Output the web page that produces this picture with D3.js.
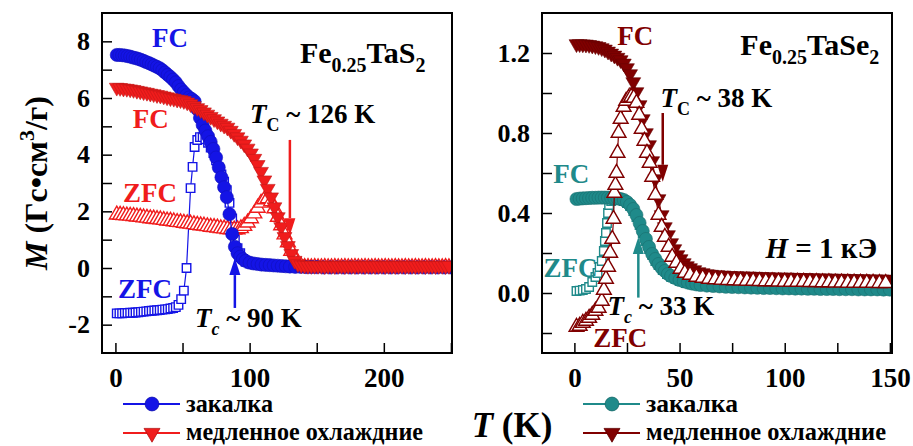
<!DOCTYPE html>
<html>
<head>
<meta charset="utf-8">
<script src="https://cdn.jsdelivr.net/npm/d3@7"></script>
<style>
  body { margin: 0; background: #fff; }
</style>
</head>
<body>
<svg id="chart" width="913" height="446" font-family="Liberation Serif" font-weight="bold"></svg>
<script>
// ---- data: [T (K), M] ----
// Fe0.25TaS2
const sQuenchFC = [[1,7.52],[3,7.52],[5,7.51],[7,7.5],[9,7.48],[11,7.46],[13,7.43],[15,7.41],[17,7.38],[19,7.35],[21,7.31],[23,7.27],[25,7.23],[27,7.19],[29,7.14],[31,7.1],[33,7.05],[35,6.98],[37,6.9],[39,6.82],[41,6.74],[43,6.65],[45,6.55],[47,6.42],[49,6.3],[51,6.2],[53,6.1],[55,6.02],[57,5.96],[59,5.88],[61,5.6],[63,5.3],[65,5.05],[67,4.85],[69,4.65],[71,4.45],[73,4.2],[75,3.9],[77,3.55],[79,3.2],[81,2.85],[83,2.5],[85,1.9],[87,1.2],[89,0.75],[91,0.52],[93,0.4],[95,0.31],[97,0.25],[100,0.19],[103,0.16],[106,0.14],[109,0.12],[112,0.11],[115,0.1],[118,0.09],[121,0.08],[124,0.07],[127,0.06],[130,0.05],[134,0.04],[138,0.04],[142,0.03],[146,0.03],[150,0.03],[155,0.02],[160,0.02],[165,0.02],[170,0.02],[175,0.02],[180,0.02],[185,0.02],[190,0.02],[195,0.02],[200,0.02],[205,0.02],[210,0.02],[215,0.02],[220,0.02],[225,0.02],[230,0.02],[235,0.02],[240,0.02],[245,0.02],[250,0.02]];
const sQuenchZFC = [[1,-1.6],[3,-1.6],[5,-1.6],[7,-1.59],[9,-1.59],[11,-1.58],[13,-1.58],[15,-1.57],[17,-1.56],[19,-1.55],[21,-1.54],[23,-1.53],[25,-1.52],[27,-1.51],[29,-1.5],[31,-1.49],[33,-1.48],[35,-1.47],[37,-1.46],[39,-1.45],[41,-1.43],[43,-1.41],[45,-1.38],[47,-1.3],[49,-1.1],[51,-0.8],[53,0.0],[56,2.82],[57.5,3.57],[59,4.27],[61,4.52],[63,4.62],[65,4.62],[67,4.55],[69,4.42],[71,4.25],[73,4.06],[75,3.8],[77,3.55],[79,3.3],[81,3.05],[83,2.75],[85,2.3],[87,1.75],[89,1.0],[91,0.7],[93,0.52],[95,0.32],[97,0.22],[100,0.16],[104,0.12],[108,0.1],[112,0.08],[116,0.07],[120,0.06],[125,0.05],[130,0.04],[135,0.03],[140,0.03]];
const sSlowFC = [[1,6.37],[3.5,6.36],[6,6.34],[8.5,6.33],[11,6.31],[13.5,6.29],[16,6.26],[18.5,6.24],[21,6.21],[23.5,6.19],[26,6.16],[28.5,6.14],[31,6.11],[33.5,6.09],[36,6.06],[38.5,6.03],[41,6.0],[43.5,5.98],[46,5.95],[48.5,5.93],[51,5.9],[53.5,5.85],[56,5.79],[58.5,5.72],[61,5.65],[63.5,5.58],[66,5.5],[68.5,5.42],[71,5.34],[73.5,5.26],[76,5.18],[78.5,5.1],[81,5.03],[83.5,4.96],[86,4.85],[88.5,4.74],[91,4.62],[93.5,4.5],[96,4.37],[98.5,4.22],[101,4.05],[103.5,3.86],[106,3.64],[108.5,3.4],[111,3.1],[113.5,2.8],[116,2.5],[118.5,2.15],[121,1.8],[123.5,1.45],[126,1.1],[128.5,0.78],[131,0.5],[133.5,0.26],[136,0.14],[138.5,0.1],[141,0.09],[143.5,0.08],[146,0.08],[148.5,0.08],[151,0.08],[153.5,0.08],[156,0.07],[158.5,0.08],[161,0.08],[163.5,0.07],[166,0.08],[168.5,0.08],[171,0.07],[173.5,0.08],[176,0.08],[178.5,0.07],[181,0.08],[183.5,0.08],[186,0.07],[188.5,0.08],[191,0.08],[193.5,0.07],[196,0.08],[198.5,0.08],[201,0.07],[203.5,0.08],[206,0.08],[208.5,0.07],[211,0.08],[213.5,0.08],[216,0.07],[218.5,0.08],[221,0.08],[223.5,0.07],[226,0.08],[228.5,0.08],[231,0.07],[233.5,0.08],[236,0.08],[238.5,0.07],[241,0.08],[243.5,0.08],[246,0.07],[248.5,0.08]];
const sSlowZFC = [[1,1.88],[3.5,1.87],[6,1.86],[8.5,1.85],[11,1.84],[13.5,1.83],[16,1.81],[18.5,1.8],[21,1.78],[23.5,1.77],[26,1.75],[28.5,1.74],[31,1.72],[33.5,1.71],[36,1.69],[38.5,1.67],[41,1.66],[43.5,1.64],[46,1.62],[48.5,1.61],[51,1.59],[53.5,1.57],[56,1.56],[58.5,1.54],[61,1.52],[63.5,1.5],[66,1.49],[68.5,1.47],[71,1.45],[73.5,1.44],[76,1.42],[78.5,1.4],[81,1.39],[83.5,1.37],[86,1.36],[88.5,1.35],[91,1.36],[93.5,1.4],[96,1.48],[98.5,1.6],[101,1.75],[103.5,1.92],[106,2.12],[108.5,2.3],[111,2.42],[113.5,2.46],[116,2.35],[118.5,2.1],[121,1.8],[123.5,1.5],[126,1.18],[128.5,0.9],[131,0.6],[133.5,0.32],[136,0.14],[138.5,0.06],[141,0.03],[143.5,0.03],[146,0.02],[148.5,0.03],[151,0.02],[153.5,0.02],[156,0.03],[158.5,0.02],[161,0.02],[163.5,0.03],[166,0.02],[168.5,0.02],[171,0.03],[173.5,0.02],[176,0.02],[178.5,0.03],[181,0.02],[183.5,0.02],[186,0.03],[188.5,0.02],[191,0.02],[193.5,0.03],[196,0.02],[198.5,0.02],[201,0.03],[203.5,0.02],[206,0.02],[208.5,0.03],[211,0.02],[213.5,0.02],[216,0.03],[218.5,0.02],[221,0.02],[223.5,0.03],[226,0.02],[228.5,0.02],[231,0.03],[233.5,0.02],[236,0.02],[238.5,0.03],[241,0.02],[243.5,0.02],[246,0.03],[248.5,0.02]];

// Fe0.25TaSe2
const seQuenchFC = [[1,0.47],[2.5,0.472],[4,0.473],[5.5,0.474],[7,0.475],[8.5,0.476],[10,0.476],[11.5,0.477],[13,0.477],[14.5,0.477],[16,0.477],[17.5,0.476],[19,0.475],[20.5,0.473],[22,0.47],[23.5,0.465],[25,0.455],[26.5,0.44],[28,0.42],[29.5,0.39],[31,0.35],[32.5,0.31],[34,0.27],[35.5,0.23],[37,0.195],[38.5,0.17],[40,0.145],[41.5,0.125],[43,0.11],[44.5,0.095],[46,0.085],[48,0.075],[50,0.065],[52,0.058],[54,0.052],[56,0.047],[58,0.043],[60,0.04],[63,0.037],[66,0.035],[69,0.033],[72,0.031],[75,0.03],[78,0.029],[81,0.028],[84,0.027],[87,0.026],[90,0.025],[93,0.025],[96,0.024],[99,0.023],[102,0.023],[105,0.022],[108,0.022],[111,0.021],[114,0.021],[117,0.02],[120,0.02],[123,0.02],[126,0.019],[129,0.019],[132,0.019],[135,0.018],[138,0.018],[141,0.018],[144,0.018],[147,0.017],[150,0.017]];
const seQuenchZFC = [[1,0.01],[2.5,0.012],[4,0.015],[5.5,0.02],[7,0.03],[8.5,0.055],[10,0.08],[11,0.1],[12,0.13],[13,0.16],[14,0.21],[14.5,0.26],[15,0.3],[15.5,0.35],[16,0.4],[16.5,0.44],[17.5,0.46],[19,0.465],[20.5,0.466],[22,0.465],[23.5,0.46],[25,0.45],[26.5,0.435],[28,0.41],[29.5,0.38],[31,0.34],[32.5,0.3],[34,0.26],[35.5,0.22],[37,0.19],[38.5,0.16],[40,0.14],[42,0.115],[44,0.095],[46,0.08],[48,0.07],[50,0.06],[53,0.05],[56,0.044],[59,0.04],[62,0.036],[65,0.033],[68,0.031],[71,0.029],[74,0.027],[77,0.026],[80,0.025],[83,0.024],[86,0.023],[89,0.022],[92,0.021],[95,0.02],[98,0.02],[101,0.019],[104,0.019],[107,0.018],[110,0.018],[113,0.017],[116,0.017],[119,0.016],[122,0.016],[125,0.016],[128,0.015],[131,0.015],[134,0.015],[137,0.015],[140,0.014],[143,0.014],[146,0.014],[149,0.014]];
const seSlowFC = [[1,1.245],[2.5,1.245],[4,1.244],[5.5,1.243],[7,1.241],[8.5,1.238],[10,1.235],[11.5,1.231],[13,1.225],[14.5,1.218],[16,1.208],[17.5,1.198],[19,1.188],[20.5,1.177],[22,1.165],[23.5,1.148],[25,1.125],[26.5,1.095],[28,1.055],[29.5,1.005],[31,0.94],[32.5,0.87],[34,0.8],[35.5,0.74],[37,0.66],[38.5,0.57],[40,0.47],[41.5,0.39],[43,0.33],[44.5,0.29],[46,0.25],[47.5,0.22],[49,0.19],[50.5,0.17],[52,0.15],[53.5,0.135],[55,0.125],[57,0.115],[59,0.105],[61,0.1],[63,0.095],[65,0.092],[68,0.09],[71,0.088],[74,0.086],[77,0.085],[80,0.084],[83,0.083],[86,0.082],[89,0.081],[92,0.08],[95,0.079],[98,0.078],[101,0.078],[104,0.077],[107,0.076],[110,0.076],[113,0.075],[116,0.074],[119,0.074],[122,0.073],[125,0.072],[128,0.072],[131,0.071],[134,0.07],[137,0.07],[140,0.069],[143,0.069],[146,0.068],[149,0.068]];
const seSlowZFC = [[1,-0.17],[2.5,-0.165],[4,-0.15],[5.5,-0.14],[7,-0.125],[8.5,-0.11],[10,-0.09],[11.5,-0.075],[13,-0.04],[14,0.015],[15,0.07],[16,0.13],[17,0.2],[18,0.27],[18.6,0.37],[19,0.5],[19.5,0.54],[20,0.6],[20.5,0.7],[21,0.8],[22,0.87],[23.4,0.93],[24.6,0.96],[25.8,0.975],[27,0.98],[28.2,0.975],[29.5,0.95],[30.8,0.89],[32,0.82],[33.3,0.76],[34.5,0.7],[35.8,0.65],[37,0.58],[38.5,0.49],[40,0.39],[41.5,0.33],[43,0.28],[44.8,0.23],[46.5,0.18],[48.5,0.15],[50.5,0.12],[52.5,0.1],[55,0.09],[58,0.08],[61,0.075],[64,0.07],[67,0.068],[70,0.066],[73,0.064],[76,0.063],[79,0.062],[82,0.061],[85,0.06],[88,0.059],[91,0.058],[94,0.058],[97,0.057],[100,0.056],[103,0.056],[106,0.055],[109,0.055],[112,0.054],[115,0.054],[118,0.053],[121,0.053],[124,0.052],[127,0.052],[130,0.051],[133,0.051],[136,0.05],[139,0.05],[142,0.05],[145,0.049],[148,0.049]];

// axes
const sTicksX = [0, 50, 100, 150, 200, 250];
const sLabelsX = [0, 100, 200];
const sTicksY = [-2, 0, 2, 4, 6, 8];
const sMinorY = [-1, 1, 3, 5, 7];
const seTicksX = [0, 25, 50, 75, 100, 125, 150];
const seLabelsX = [0, 50, 100, 150];
const seTicksY = [0, 0.4, 0.8, 1.2];
const seMinorY = [-0.2, 0.2, 0.6, 1.0];

const legendLabels = ["закалка", "медленное охлаждние"];

const col = { blue: "#1414e6", red: "#f01c1c", teal: "#1f8a8a", dred: "#800000" };
const serif = "Liberation Serif";

const svg = d3.select("#chart");
const plotTop = 13, plotBottom = 353;

function richText(g, x, y, parts, opt) {
  const t = g.append("text").attr("x", x).attr("y", y)
    .attr("font-family", serif).attr("font-weight", "bold")
    .attr("font-size", opt.size).attr("fill", opt.color || "#000");
  let shift = 0;
  parts.forEach((p) => {
    const ts = t.append("tspan").text(p.t);
    const want = p.sub ? Math.round(opt.size * 0.3) : p.sup ? -Math.round(opt.size * 0.4) : 0;
    if (want !== shift) { ts.attr("dy", want - shift); shift = want; }
    if (p.sub || p.sup) ts.attr("font-size", Math.round(opt.size * 0.68));
    if (p.i) ts.attr("font-style", "italic");
  });
  return t;
}

function arrow(g, x, y1, y2, color) {
  // y1 tail, y2 tip
  const dir = y2 > y1 ? 1 : -1;
  const head = 17;
  g.append("line").attr("x1", x).attr("x2", x).attr("y1", y1).attr("y2", y2 - dir * head)
    .attr("stroke", color).attr("stroke-width", 2.5);
  g.append("path")
    .attr("d", `M${x - 5.5},${y2 - dir * head}L${x + 5.5},${y2 - dir * head}L${x},${y2}Z`)
    .attr("fill", color);
}

function drawSeries(g, x, y, data, color, shape, open) {
  g.append("path").datum(data)
    .attr("d", d3.line().x((d) => x(d[0])).y((d) => y(d[1])))
    .attr("fill", "none").attr("stroke", color).attr("stroke-width", 1.2);
  const sym = d3.symbol()
    .type(shape === "circle" ? d3.symbolCircle : shape === "square" ? d3.symbolSquare : d3.symbolTriangle)
    .size(shape === "circle" ? 135 : shape === "square" ? 72 : 95);
  g.selectAll(null).data(data).enter().append("path")
    .attr("d", sym)
    .attr("transform", (d) => `translate(${x(d[0])},${y(d[1])})` + (shape === "down" ? " rotate(180)" : ""))
    .attr("fill", open ? "#fff" : color)
    .attr("stroke", open ? color : d3.color(color).darker(0.6))
    .attr("stroke-width", open ? 1.4 : 0.6);
}

function panel(left, right, xDom, yDom, ticksX, labelsX, ticksY, minorY, fmt) {
  const x = d3.scaleLinear().domain(xDom).range([left, right]);
  const y = d3.scaleLinear().domain(yDom).range([plotBottom, plotTop]);
  const g = svg.append("g");
  const clip = "clip" + left;
  svg.append("clipPath").attr("id", clip).append("rect")
    .attr("x", left).attr("y", plotTop).attr("width", right - left).attr("height", plotBottom - plotTop);
  const axes = svg.append("g");
  const xa = axes.append("g").attr("transform", `translate(0,${plotBottom})`)
    .call(d3.axisBottom(x).tickValues(ticksX).tickSize(-10).tickPadding(15)
      .tickFormat((d) => (labelsX.includes(d) ? d : "")));
  const ya = axes.append("g").attr("transform", `translate(${left},0)`)
    .call(d3.axisLeft(y).tickValues(ticksY).tickSize(-10).tickPadding(12).tickFormat(fmt));
  const ym = axes.append("g").attr("transform", `translate(${left},0)`)
    .call(d3.axisLeft(y).tickValues(minorY).tickSize(-10).tickFormat(""));
  [xa, ya, ym].forEach((a) => a.attr("font-family", serif).attr("font-weight", "bold"));
  axes.selectAll(".domain").remove();
  axes.selectAll(".tick line").attr("stroke", "#000").attr("stroke-width", 1.5);
  axes.selectAll("text").attr("fill", "#000");
  xa.attr("font-size", 27);
  ya.attr("font-size", 26);
  axes.append("rect").attr("x", left).attr("y", plotTop).attr("width", right - left)
    .attr("height", plotBottom - plotTop).attr("fill", "none").attr("stroke", "#000").attr("stroke-width", 2);
  const plot = g.append("g").attr("clip-path", `url(#${clip})`);
  return { x, y, plot, g: svg.append("g") };
}

// ---- left panel: Fe0.25TaS2 ----
const L = panel(102, 452, [-10, 250.8], [-3, 9], sTicksX, sLabelsX, sTicksY, sMinorY, (d) => String(d));
drawSeries(L.plot, L.x, L.y, sQuenchZFC, col.blue, "square", true);
drawSeries(L.plot, L.x, L.y, sSlowZFC, col.red, "up", true);
drawSeries(L.plot, L.x, L.y, sQuenchFC, col.blue, "circle", false);
drawSeries(L.plot, L.x, L.y, sSlowFC, col.red, "down", false);

richText(L.g, L.x(27.3), L.y(7.8), [{ t: "FC" }], { size: 27, color: col.blue });
richText(L.g, L.x(137.5), L.y(7.24), [{ t: "Fe" }, { t: "0.25", sub: true }, { t: "TaS" }, { t: "2", sub: true }], { size: 30 });
richText(L.g, L.x(13), L.y(4.94), [{ t: "FC" }], { size: 27, color: col.red });
richText(L.g, L.x(100.2), L.y(5.12), [{ t: "T", i: true }, { t: "C", sub: true }, { t: " ~ 126 K" }], { size: 27 });
richText(L.g, L.x(5.7), L.y(2.33), [{ t: "ZFC" }], { size: 27, color: col.red });
richText(L.g, L.x(2), L.y(-1.06), [{ t: "ZFC" }], { size: 27, color: col.blue });
richText(L.g, L.x(59.3), L.y(-2.08), [{ t: "T", i: true }, { t: "c", sub: true, i: true }, { t: " ~ 90 K" }], { size: 27 });
arrow(L.g, L.x(130), L.y(4.52), L.y(1.16), col.red);
arrow(L.g, L.x(89), L.y(-1.41), L.y(0.35), col.blue);

// ---- right panel: Fe0.25TaSe2 ----
const R = panel(542, 892, [-15.4, 151], [-0.3, 1.4], seTicksX, seLabelsX, seTicksY, seMinorY, d3.format(".1f"));
drawSeries(R.plot, R.x, R.y, seQuenchZFC, col.teal, "square", true);
drawSeries(R.plot, R.x, R.y, seQuenchFC, col.teal, "circle", false);
drawSeries(R.plot, R.x, R.y, seSlowFC, col.dred, "down", false);
drawSeries(R.plot, R.x, R.y, seSlowZFC, col.dred, "up", true);

richText(R.g, R.x(20.4), R.y(1.24), [{ t: "FC" }], { size: 27, color: col.dred });
richText(R.g, R.x(78.9), R.y(1.19), [{ t: "Fe" }, { t: "0.25", sub: true }, { t: "TaSe" }, { t: "2", sub: true }], { size: 30 });
richText(R.g, R.x(40.9), R.y(0.93), [{ t: "T", i: true }, { t: "C", sub: true }, { t: " ~ 38 K" }], { size: 27 });
richText(R.g, R.x(-10), R.y(0.55), [{ t: "FC" }], { size: 27, color: col.teal });
richText(R.g, R.x(90.8), R.y(0.176), [{ t: "H", i: true }, { t: " = 1 кЭ" }], { size: 29 });
richText(R.g, R.x(-14.7), R.y(0.08), [{ t: "ZFC" }], { size: 27, color: col.teal });
richText(R.g, R.x(15.7), R.y(-0.11), [{ t: "T", i: true }, { t: "c", sub: true, i: true }, { t: " ~ 33 K" }], { size: 27 });
richText(R.g, R.x(9), R.y(-0.27), [{ t: "ZFC" }], { size: 27, color: col.dred });
arrow(R.g, R.x(42), R.y(0.9), R.y(0.556), col.dred);
arrow(R.g, R.x(30.4), R.y(-0.023), R.y(0.28), col.teal);

// ---- axis titles ----
richText(svg, 0, 0, [{ t: "M", i: true }, { t: " (Гс•см" }, { t: "3", sup: true }, { t: "/г)" }], { size: 32 })
  .attr("transform", "translate(47,183) rotate(-90)").attr("text-anchor", "middle");
richText(svg, 512, 437, [{ t: "T", i: true }, { t: " (K)" }], { size: 35 }).attr("text-anchor", "middle");

// ---- legends ----
function legend(x0, c1, c2, w1, w2) {
  const rows = [
    { y: 404, base: 412, color: c1, shape: "circle", label: legendLabels[0], w: w1 },
    { y: 433, base: 440, color: c2, shape: "down", label: legendLabels[1], w: w2 },
  ];
  rows.forEach((r) => {
    svg.append("line").attr("x1", x0).attr("x2", x0 + 57).attr("y1", r.y).attr("y2", r.y)
      .attr("stroke", r.color).attr("stroke-width", 2.2);
    const sym = d3.symbol().type(r.shape === "circle" ? d3.symbolCircle : d3.symbolTriangle)
      .size(r.shape === "circle" ? 150 : 110);
    svg.append("path").attr("d", sym)
      .attr("transform", `translate(${x0 + 29},${r.y})` + (r.shape === "down" ? " rotate(180)" : ""))
      .attr("fill", r.color).attr("stroke", d3.color(r.color).darker(0.8)).attr("stroke-width", 0.8);
    svg.append("text").attr("x", x0 + 63).attr("y", r.base).text(r.label)
      .attr("font-family", serif).attr("font-weight", "bold")
      .attr("font-size", 26).attr("textLength", r.w).attr("lengthAdjust", "spacingAndGlyphs");
  });
}
legend(123, col.blue, col.red, 87, 237);
legend(583, col.teal, col.dred, 92, 240);
</script>
</body>
</html>
